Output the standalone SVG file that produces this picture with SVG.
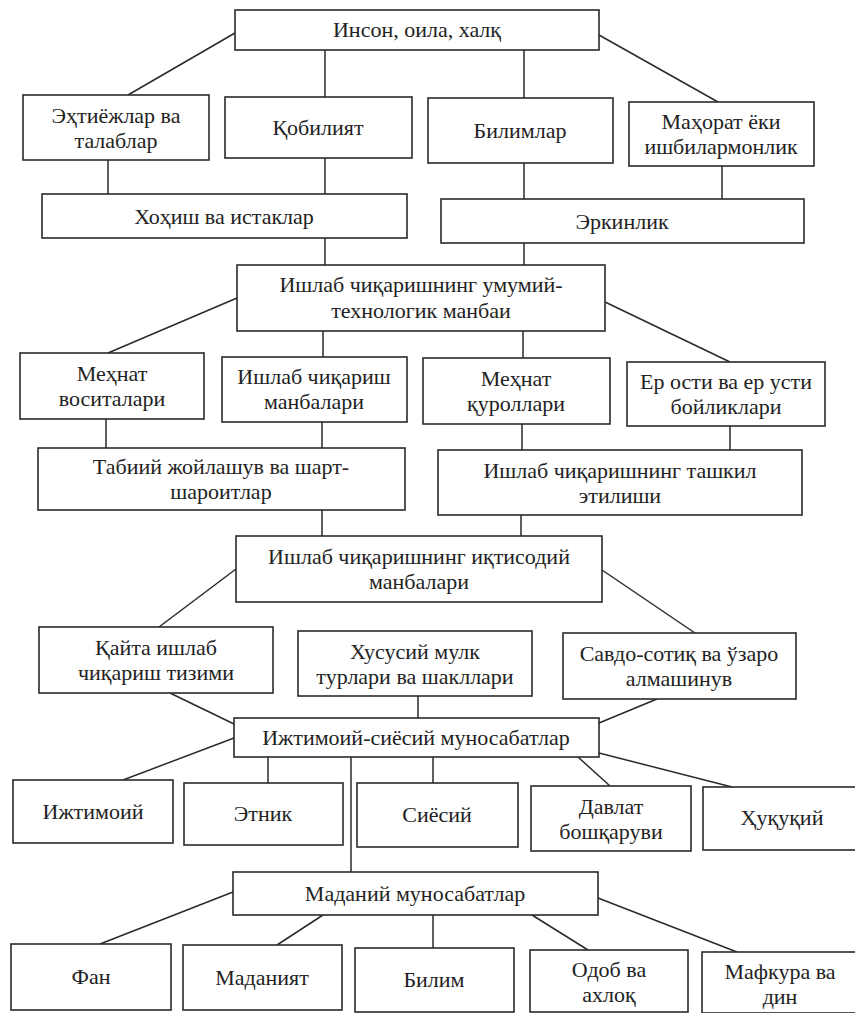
<svg xmlns="http://www.w3.org/2000/svg" width="855" height="1013" viewBox="0 0 855 1013">
<style>
.b{fill:#fff;stroke:#2a2a2a;stroke-width:1.6}
.t{font-size:22px;fill:#222;text-anchor:middle}
.c line{stroke:#2a2a2a;stroke-width:1.5}
</style>
<rect x="0" y="0" width="855" height="1013" fill="#fff"/>
<g class="c" id="connectors">
<line x1="235" y1="33" x2="128" y2="95"/>
<line x1="325" y1="50" x2="325" y2="97"/>
<line x1="524" y1="50" x2="524" y2="98"/>
<line x1="599" y1="35" x2="718" y2="102"/>
<line x1="108" y1="160" x2="108" y2="194"/>
<line x1="325" y1="158" x2="325" y2="194"/>
<line x1="524" y1="163" x2="524" y2="199"/>
<line x1="722" y1="166" x2="722" y2="199"/>
<line x1="325" y1="238" x2="325" y2="265"/>
<line x1="524" y1="243" x2="524" y2="265"/>
<line x1="237" y1="298" x2="108" y2="353"/>
<line x1="323" y1="331" x2="323" y2="357"/>
<line x1="523" y1="331" x2="523" y2="358"/>
<line x1="605" y1="302" x2="730" y2="362"/>
<line x1="106" y1="419" x2="106" y2="448"/>
<line x1="322" y1="422" x2="322" y2="448"/>
<line x1="522" y1="424" x2="522" y2="450"/>
<line x1="730" y1="426" x2="730" y2="450"/>
<line x1="322" y1="510" x2="322" y2="536"/>
<line x1="521" y1="515" x2="521" y2="536"/>
<line x1="236" y1="569" x2="159" y2="627"/>
<line x1="602" y1="570" x2="695" y2="633"/>
<line x1="170" y1="693" x2="234" y2="724"/>
<line x1="418" y1="696" x2="418" y2="718"/>
<line x1="657" y1="699" x2="599" y2="723"/>
<line x1="234" y1="738" x2="123" y2="780"/>
<line x1="268" y1="757" x2="268" y2="783"/>
<line x1="351" y1="757" x2="351" y2="872"/>
<line x1="433" y1="757" x2="433" y2="783"/>
<line x1="578" y1="757" x2="610" y2="786"/>
<line x1="599" y1="753" x2="732" y2="787"/>
<line x1="233" y1="892" x2="100" y2="944"/>
<line x1="323" y1="915" x2="277" y2="945"/>
<line x1="433" y1="915" x2="433" y2="948"/>
<line x1="532" y1="915" x2="588" y2="950"/>
<line x1="598" y1="898" x2="737" y2="952"/>
</g>
<g font-family="Liberation Serif, Times New Roman, serif">
<g id="n1"><rect class="b" x="235" y="10" width="364" height="40"/><text class="t" x="417" y="37">Инсон, оила, халқ</text></g>
<g id="n2"><rect class="b" x="23" y="95" width="186" height="65"/><text class="t" x="116" y="123">Эҳтиёжлар ва</text><text class="t" x="116" y="148">талаблар</text></g>
<g id="n3"><rect class="b" x="225" y="97" width="187" height="61"/><text class="t" x="318" y="135">Қобилият</text></g>
<g id="n4"><rect class="b" x="428" y="98" width="185" height="65"/><text class="t" x="520" y="138">Билимлар</text></g>
<g id="n5"><rect class="b" x="629" y="102" width="185" height="64"/><text class="t" x="721" y="129">Маҳорат ёки</text><text class="t" x="721" y="154">ишбилармонлик</text></g>
<g id="n6"><rect class="b" x="42" y="194" width="365" height="44"/><text class="t" x="224" y="224">Хоҳиш ва истаклар</text></g>
<g id="n7"><rect class="b" x="441" y="199" width="363" height="44"/><text class="t" x="622" y="229">Эркинлик</text></g>
<g id="n8"><rect class="b" x="237" y="265" width="368" height="66"/><text class="t" x="421" y="292">Ишлаб чиқаришнинг умумий-</text><text class="t" x="421" y="318">технологик манбаи</text></g>
<g id="n9"><rect class="b" x="20" y="353" width="184" height="66"/><text class="t" x="112" y="381">Меҳнат</text><text class="t" x="112" y="406">воситалари</text></g>
<g id="n10"><rect class="b" x="222" y="357" width="185" height="65"/><text class="t" x="314" y="384">Ишлаб чиқариш</text><text class="t" x="314" y="409">манбалари</text></g>
<g id="n11"><rect class="b" x="423" y="358" width="187" height="66"/><text class="t" x="516" y="386">Меҳнат</text><text class="t" x="516" y="411">қуроллари</text></g>
<g id="n12"><rect class="b" x="627" y="362" width="198" height="64"/><text class="t" x="726" y="389">Ер ости ва ер усти</text><text class="t" x="726" y="414">бойликлари</text></g>
<g id="n13"><rect class="b" x="38" y="448" width="367" height="62"/><text class="t" x="221" y="474">Табиий жойлашув ва шарт-</text><text class="t" x="221" y="499">шароитлар</text></g>
<g id="n14"><rect class="b" x="438" y="450" width="364" height="65"/><text class="t" x="620" y="478">Ишлаб чиқаришнинг ташкил</text><text class="t" x="620" y="503">этилиши</text></g>
<g id="n15"><rect class="b" x="236" y="536" width="366" height="66"/><text class="t" x="419" y="564">Ишлаб чиқаришнинг иқтисодий</text><text class="t" x="419" y="589">манбалари</text></g>
<g id="n16"><rect class="b" x="39" y="627" width="234" height="66"/><text class="t" x="156" y="655">Қайта ишлаб</text><text class="t" x="156" y="680">чиқариш тизими</text></g>
<g id="n17"><rect class="b" x="298" y="631" width="234" height="65"/><text class="t" x="415" y="659">Хусусий мулк</text><text class="t" x="415" y="684">турлари ва шакллари</text></g>
<g id="n18"><rect class="b" x="563" y="633" width="233" height="66"/><text class="t" x="679" y="661">Савдо-сотиқ ва ўзаро</text><text class="t" x="679" y="686">алмашинув</text></g>
<g id="n19"><rect class="b" x="234" y="718" width="365" height="39"/><text class="t" x="416" y="745">Ижтимоий-сиёсий муносабатлар</text></g>
<g id="n20"><rect class="b" x="13" y="780" width="160" height="63"/><text class="t" x="93" y="819">Ижтимоий</text></g>
<g id="n21"><rect class="b" x="184" y="783" width="159" height="62"/><text class="t" x="263" y="821">Этник</text></g>
<g id="n22"><rect class="b" x="357" y="783" width="161" height="64"/><text class="t" x="437" y="822">Сиёсий</text></g>
<g id="n23"><rect class="b" x="531" y="786" width="160" height="65"/><text class="t" x="611" y="814">Давлат</text><text class="t" x="611" y="839">бошқаруви</text></g>
<g id="n24"><rect class="b" x="703" y="787" width="170" height="63"/><text class="t" x="782" y="825">Ҳуқуқий</text></g>
<g id="n25"><rect class="b" x="233" y="872" width="365" height="43"/><text class="t" x="415" y="901">Маданий муносабатлар</text></g>
<g id="n26"><rect class="b" x="11" y="944" width="160" height="66"/><text class="t" x="91" y="984">Фан</text></g>
<g id="n27"><rect class="b" x="183" y="945" width="159" height="65"/><text class="t" x="262" y="985">Маданият</text></g>
<g id="n28"><rect class="b" x="355" y="948" width="159" height="64"/><text class="t" x="434" y="987">Билим</text></g>
<g id="n29"><rect class="b" x="530" y="950" width="158" height="62"/><text class="t" x="609" y="977">Одоб ва</text><text class="t" x="609" y="1002">ахлоқ</text></g>
<g id="n30"><rect class="b" x="702" y="952" width="170" height="61"/><text class="t" x="780" y="979">Мафкура ва</text><text class="t" x="780" y="1004">дин</text></g>
</g>
</svg>
